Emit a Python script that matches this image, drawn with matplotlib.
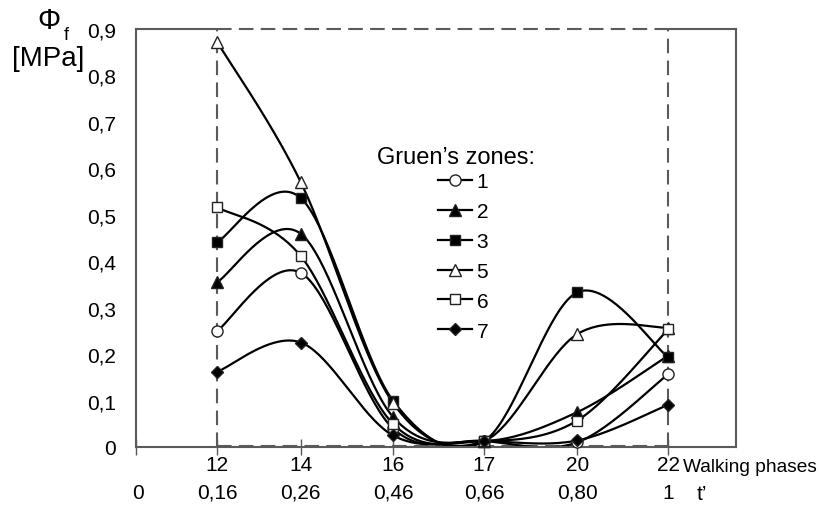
import numpy as np
import matplotlib
matplotlib.use('Agg')
import matplotlib.pyplot as plt
from matplotlib.lines import Line2D

plt.rcParams['font.family'] = ['Liberation Sans', 'DejaVu Sans']

# walking phases and the t' value printed under each
phases = ['12', '14', '16', '17', '20', '22']
t_labels = ['0,16', '0,26', '0,46', '0,66', '0,80', '1']
# horizontal place of each phase on the axis (0 = start, 1 = phase 22)
phase_x = [0.153, 0.310, 0.483, 0.654, 0.829, 1.0]

# fluid pressure Phi_f [MPa] per Gruen's zone
zone1 = [0.250, 0.375, 0.040, 0.013, 0.010, 0.157]
zone2 = [0.355, 0.459, 0.065, 0.013, 0.075, 0.197]
zone3 = [0.441, 0.536, 0.100, 0.013, 0.333, 0.193]
zone5 = [0.872, 0.570, 0.095, 0.013, 0.243, 0.257]
zone6 = [0.516, 0.411, 0.050, 0.013, 0.057, 0.254]
zone7 = [0.162, 0.225, 0.025, 0.013, 0.014, 0.091]

zone_names = ['1', '2', '3', '5', '6', '7']
y_ticks = [0, 0.1, 0.2, 0.3, 0.4, 0.5, 0.6, 0.7, 0.8, 0.9]

GREY = '#5a5a5a'


# smooth line through the points, like the spreadsheet "smoothed line"
def smooth(xs, ys, n=40):
    px = [xs[0]] + list(xs) + [xs[-1]]
    py = [ys[0]] + list(ys) + [ys[-1]]
    cx, cy = [], []
    t = np.linspace(0, 1, n)
    for i in range(len(xs) - 1):
        p0 = np.array([px[i], py[i]])
        p1 = np.array([px[i + 1], py[i + 1]])
        p2 = np.array([px[i + 2], py[i + 2]])
        p3 = np.array([px[i + 3], py[i + 3]])
        c1 = p1 + (p2 - p0) / 6
        c2 = p2 - (p3 - p1) / 6
        for tt in t:
            pt = ((1 - tt) ** 3) * p1 + 3 * ((1 - tt) ** 2) * tt * c1 \
                + 3 * (1 - tt) * tt ** 2 * c2 + tt ** 3 * p2
            cx.append(pt[0])
            cy.append(pt[1])
    return cx, cy


fig = plt.figure(figsize=(8.19, 5.06), dpi=100)
ax = fig.add_axes([135.7 / 819, 1 - 448 / 506, 600.3 / 819, 418 / 506])
ax.set_xlim(0, 1.127)
ax.set_ylim(0, 0.9)

styles = [
    ('o', 'white'),
    ('^', 'black'),
    ('s', 'black'),
    ('^', 'white'),
    ('s', 'white'),
    ('D', 'black'),
]
zones = [zone1, zone2, zone3, zone5, zone6, zone7]
sizes = [8, 8, 7.5, 8, 7, 6.5]

handles = []
for vals, (mk, fc), ms, name in zip(zones, styles, sizes, zone_names):
    sx, sy = smooth(phase_x, vals)
    ax.plot(sx, sy, color='black', lw=1.6, zorder=2)
    ax.plot(phase_x, vals, ls='none', marker=mk, ms=ms, mfc=fc,
            mec='#222222', mew=1, zorder=3, clip_on=False)
    handles.append(Line2D([], [], color='black', lw=1.6, marker=mk, ms=ms,
                          mfc=fc, mec='#222222', mew=1, label=name))

# dashed frame between phase 12 and phase 22
x0, x1 = phase_x[0], phase_x[-1]
dash = dict(color=GREY, lw=1.5, dashes=(7, 3.5), zorder=1, clip_on=False)
ax.plot([x0, x0], [0, 0.9], **dash)
ax.plot([x1, x1], [0, 0.9], **dash)
ax.plot([x0, x1], [0.9, 0.9], **dash)
ax.plot([x0, x1], [0.002, 0.002], **dash)

# frame
for s in ['left', 'right', 'bottom']:
    ax.spines[s].set_color(GREY)
    ax.spines[s].set_linewidth(1.5)
ax.spines['top'].set_visible(False)
ax.plot([0, x0], [0.9, 0.9], color=GREY, lw=1.5, clip_on=False)
ax.plot([x1, 1.127], [0.9, 0.9], color=GREY, lw=1.5, clip_on=False)

# y axis
ax.set_yticks(y_ticks)
ax.set_yticklabels([('%g' % v).replace('.', ',') for v in y_ticks], fontsize=15)
ax.tick_params(axis='y', length=0, pad=14)

# x axis: two rows of labels
ax.set_xticks([0] + phase_x)
ax.set_xticklabels([])
ax.tick_params(axis='x', direction='inout', length=11, width=1, color=GREY)
xt = ax.get_xaxis_transform()
for x, p, tl in zip(phase_x, phases, t_labels):
    ax.text(x, -0.043, p, transform=xt, ha='center', va='center', fontsize=15)
    ax.text(x, -0.108, tl, transform=xt, ha='center', va='center', fontsize=15)
ax.text(0.005, -0.108, '0', transform=xt, ha='center', va='center', fontsize=15)
fig.text(683 / 819, 1 - 468 / 506, 'Walking phases', ha='left', va='center',
         fontsize=13.8)
fig.text(702 / 819, 1 - 495 / 506, "t\u2019", ha='center', va='center',
         fontsize=15)

# y label
fig.text(49 / 819, 1 - 21 / 506, '\u03a6', ha='center', va='center', fontsize=21)
fig.text(66 / 819, 1 - 36 / 506, 'f', ha='center', va='center', fontsize=13)
fig.text(48 / 819, 1 - 59 / 506, '[MPa]', ha='center', va='center', fontsize=20)

# legend
ax.text(456 / 819, 1 - 158 / 506, 'Gruen\u2019s zones:', transform=fig.transFigure,
        ha='center', va='center', fontsize=17)
fig.legend(handles=handles, loc='upper left',
           bbox_to_anchor=(438 / 819, 1 - 173 / 506), frameon=False,
           fontsize=15, handlelength=1.65, handletextpad=0.2,
           labelspacing=0.525, borderpad=0, borderaxespad=0, numpoints=1)

fig.savefig('out.png', dpi=100)
